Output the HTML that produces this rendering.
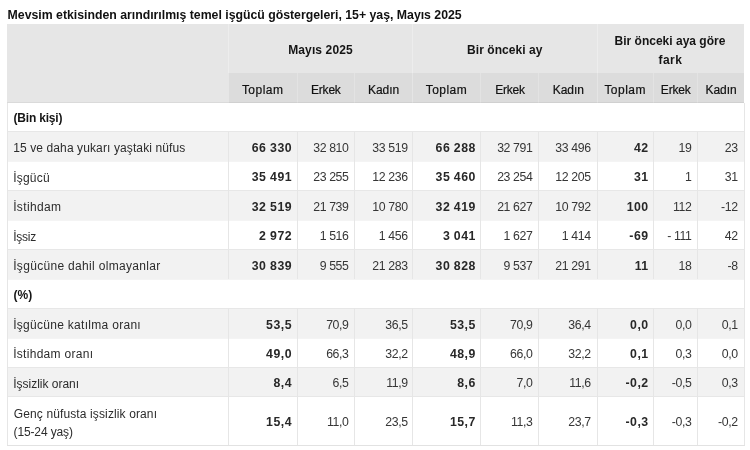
<!DOCTYPE html>
<html lang="tr"><head><meta charset="utf-8"><title>Temel işgücü göstergeleri</title>
<style>
html,body{margin:0;padding:0;background:#fff;}
body{width:750px;height:450px;position:relative;overflow:hidden;font-family:"Liberation Sans",sans-serif;color:#151515;}
#wrap{position:absolute;left:0;top:0;width:750px;height:450px;filter:blur(0.33px);}
.b{position:absolute;}
.t{position:absolute;white-space:nowrap;font-size:12px;line-height:18px;height:18px;}
.n{position:absolute;white-space:nowrap;font-size:12.3px;line-height:18px;height:18px;text-align:right;letter-spacing:-0.39px;}
.sh{-webkit-text-stroke:0.2px #111;color:#111;}
.lb{color:#2c2c2c;}
.n{color:#363636;}
.nb{color:#282828;}
.s{font-weight:bold;}
.nb{font-weight:bold;letter-spacing:0.53px;word-spacing:-0.4px;}
.h{font-weight:bold;font-size:12px;}
.v{position:absolute;width:1px;}
.hl{position:absolute;height:1px;}
</style></head><body><div id="wrap">
<div class="t s" style="left:7.6px;top:5.54px;font-size:12.3px;color:#111;letter-spacing:-0.01px">Mevsim etkisinden arındırılmış temel işgücü göstergeleri, 15+ yaş, Mayıs 2025</div>
<div class="b" style="left:7.3px;top:24px;width:736.9px;height:78.7px;background:#e6e6e6"></div>
<div class="b" style="left:228.5px;top:72.6px;width:515.7px;height:30.1px;background:#dcdcdc"></div>
<div class="t h" style="left:288.2px;top:41.14px;letter-spacing:0.12px">Mayıs 2025</div>
<div class="t h" style="left:467.1px;top:41.14px;letter-spacing:0.06px">Bir önceki ay</div>
<div class="t h" style="left:614.5px;top:31.84px;letter-spacing:0.01px">Bir önceki aya göre</div>
<div class="t h" style="left:658.5px;top:50.84px;letter-spacing:0.45px">fark</div>
<div class="t sh" style="left:241.9px;top:80.74px;letter-spacing:0.47px">Toplam</div>
<div class="t sh" style="left:311px;top:80.74px;letter-spacing:-0.2px">Erkek</div>
<div class="t sh" style="left:368px;top:80.74px;letter-spacing:-0.05px">Kadın</div>
<div class="t sh" style="left:425.7px;top:80.74px;letter-spacing:0.47px">Toplam</div>
<div class="t sh" style="left:495.15px;top:80.74px;letter-spacing:-0.2px">Erkek</div>
<div class="t sh" style="left:552.75px;top:80.74px;letter-spacing:-0.05px">Kadın</div>
<div class="t sh" style="left:604.4px;top:80.74px;letter-spacing:0.47px">Toplam</div>
<div class="t sh" style="left:660.85px;top:80.74px;letter-spacing:-0.2px">Erkek</div>
<div class="t sh" style="left:705.55px;top:80.74px;letter-spacing:-0.05px">Kadın</div>
<div class="t s" style="left:13.5px;top:109.44px;letter-spacing:-0.19px">(Bin kişi)</div>
<div class="b" style="left:7.3px;top:131.3px;width:736.9px;height:29.85px;background:#f2f2f2"></div>
<div class="t lb" style="left:13.2px;top:139.18px;letter-spacing:0.11px">15 ve daha yukarı yaştaki nüfus</div>
<div class="n nb" style="right:457.87px;top:138.88px">66 330</div>
<div class="n" style="right:401.49px;top:138.88px">32 810</div>
<div class="n" style="right:342.39px;top:138.88px">33 519</div>
<div class="n nb" style="right:274.07px;top:138.88px">66 288</div>
<div class="n" style="right:217.59px;top:138.88px">32 791</div>
<div class="n" style="right:159.39px;top:138.88px">33 496</div>
<div class="n nb" style="right:101.27px;top:138.88px">42</div>
<div class="n" style="right:58.59px;top:138.88px">19</div>
<div class="n" style="right:12.29px;top:138.88px">23</div>
<div class="t lb" style="left:13.2px;top:168.62px;letter-spacing:0.22px">İşgücü</div>
<div class="n nb" style="right:457.87px;top:168.32px">35 491</div>
<div class="n" style="right:401.49px;top:168.32px">23 255</div>
<div class="n" style="right:342.39px;top:168.32px">12 236</div>
<div class="n nb" style="right:274.07px;top:168.32px">35 460</div>
<div class="n" style="right:217.59px;top:168.32px">23 254</div>
<div class="n" style="right:159.39px;top:168.32px">12 205</div>
<div class="n nb" style="right:101.27px;top:168.32px">31</div>
<div class="n" style="right:58.59px;top:168.32px">1</div>
<div class="n" style="right:12.29px;top:168.32px">31</div>
<div class="b" style="left:7.3px;top:190.25px;width:736.9px;height:29.85px;background:#f2f2f2"></div>
<div class="t lb" style="left:13.2px;top:198.06px;letter-spacing:0.34px">İstihdam</div>
<div class="n nb" style="right:457.87px;top:197.76px">32 519</div>
<div class="n" style="right:401.49px;top:197.76px">21 739</div>
<div class="n" style="right:342.39px;top:197.76px">10 780</div>
<div class="n nb" style="right:274.07px;top:197.76px">32 419</div>
<div class="n" style="right:217.59px;top:197.76px">21 627</div>
<div class="n" style="right:159.39px;top:197.76px">10 792</div>
<div class="n nb" style="right:101.27px;top:197.76px">100</div>
<div class="n" style="right:58.59px;top:197.76px">112</div>
<div class="n" style="right:12.29px;top:197.76px">-12</div>
<div class="t lb" style="left:13.2px;top:227.5px;letter-spacing:-0.26px">İşsiz</div>
<div class="n nb" style="right:457.87px;top:227.2px">2 972</div>
<div class="n" style="right:401.49px;top:227.2px">1 516</div>
<div class="n" style="right:342.39px;top:227.2px">1 456</div>
<div class="n nb" style="right:274.07px;top:227.2px">3 041</div>
<div class="n" style="right:217.59px;top:227.2px">1 627</div>
<div class="n" style="right:159.39px;top:227.2px">1 414</div>
<div class="n nb" style="right:101.27px;top:227.2px">-69</div>
<div class="n" style="right:58.59px;top:227.2px">- 111</div>
<div class="n" style="right:12.29px;top:227.2px">42</div>
<div class="b" style="left:7.3px;top:249.2px;width:736.9px;height:29.85px;background:#f2f2f2"></div>
<div class="t lb" style="left:13.2px;top:256.94px;letter-spacing:0.32px">İşgücüne dahil olmayanlar</div>
<div class="n nb" style="right:457.87px;top:256.64px">30 839</div>
<div class="n" style="right:401.49px;top:256.64px">9 555</div>
<div class="n" style="right:342.39px;top:256.64px">21 283</div>
<div class="n nb" style="right:274.07px;top:256.64px">30 828</div>
<div class="n" style="right:217.59px;top:256.64px">9 537</div>
<div class="n" style="right:159.39px;top:256.64px">21 291</div>
<div class="n nb" style="right:101.27px;top:256.64px">11</div>
<div class="n" style="right:58.59px;top:256.64px">18</div>
<div class="n" style="right:12.29px;top:256.64px">-8</div>
<div class="t s" style="left:13.5px;top:286.08px;letter-spacing:0.08px">(%)</div>
<div class="b" style="left:7.3px;top:308.15px;width:736.9px;height:29.85px;background:#f2f2f2"></div>
<div class="t lb" style="left:13.2px;top:315.82px;letter-spacing:0.29px">İşgücüne katılma oranı</div>
<div class="n nb" style="right:457.87px;top:315.52px">53,5</div>
<div class="n" style="right:401.49px;top:315.52px">70,9</div>
<div class="n" style="right:342.39px;top:315.52px">36,5</div>
<div class="n nb" style="right:274.07px;top:315.52px">53,5</div>
<div class="n" style="right:217.59px;top:315.52px">70,9</div>
<div class="n" style="right:159.39px;top:315.52px">36,4</div>
<div class="n nb" style="right:101.27px;top:315.52px">0,0</div>
<div class="n" style="right:58.59px;top:315.52px">0,0</div>
<div class="n" style="right:12.29px;top:315.52px">0,1</div>
<div class="t lb" style="left:13.2px;top:345.26px;letter-spacing:0.29px">İstihdam oranı</div>
<div class="n nb" style="right:457.87px;top:344.96px">49,0</div>
<div class="n" style="right:401.49px;top:344.96px">66,3</div>
<div class="n" style="right:342.39px;top:344.96px">32,2</div>
<div class="n nb" style="right:274.07px;top:344.96px">48,9</div>
<div class="n" style="right:217.59px;top:344.96px">66,0</div>
<div class="n" style="right:159.39px;top:344.96px">32,2</div>
<div class="n nb" style="right:101.27px;top:344.96px">0,1</div>
<div class="n" style="right:58.59px;top:344.96px">0,3</div>
<div class="n" style="right:12.29px;top:344.96px">0,0</div>
<div class="b" style="left:7.3px;top:367.1px;width:736.9px;height:29.85px;background:#f2f2f2"></div>
<div class="t lb" style="left:13.2px;top:374.7px;letter-spacing:-0.01px">İşsizlik oranı</div>
<div class="n nb" style="right:457.87px;top:374.4px">8,4</div>
<div class="n" style="right:401.49px;top:374.4px">6,5</div>
<div class="n" style="right:342.39px;top:374.4px">11,9</div>
<div class="n nb" style="right:274.07px;top:374.4px">8,6</div>
<div class="n" style="right:217.59px;top:374.4px">7,0</div>
<div class="n" style="right:159.39px;top:374.4px">11,6</div>
<div class="n nb" style="right:101.27px;top:374.4px">-0,2</div>
<div class="n" style="right:58.59px;top:374.4px">-0,5</div>
<div class="n" style="right:12.29px;top:374.4px">0,3</div>
<div class="t lb" style="left:13.8px;top:405.14px;letter-spacing:0.12px">Genç nüfusta işsizlik oranı</div>
<div class="t lb" style="left:13.5px;top:423.44px;letter-spacing:-0.12px">(15-24 yaş)</div>
<div class="n nb" style="right:457.87px;top:413.49px">15,4</div>
<div class="n" style="right:401.49px;top:413.49px">11,0</div>
<div class="n" style="right:342.39px;top:413.49px">23,5</div>
<div class="n nb" style="right:274.07px;top:413.49px">15,7</div>
<div class="n" style="right:217.59px;top:413.49px">11,3</div>
<div class="n" style="right:159.39px;top:413.49px">23,7</div>
<div class="n nb" style="right:101.27px;top:413.49px">-0,3</div>
<div class="n" style="right:58.59px;top:413.49px">-0,3</div>
<div class="n" style="right:12.29px;top:413.49px">-0,2</div>
<div class="hl" style="left:6.8px;top:444.5px;width:737.9px;background:#e2e2e2"></div>
<div class="hl" style="left:7.3px;top:130.8px;width:736.9px;background:rgba(0,0,0,.045)"></div>
<div class="hl" style="left:7.3px;top:160.65px;width:736.9px;background:rgba(0,0,0,.045)"></div>
<div class="hl" style="left:7.3px;top:189.75px;width:736.9px;background:rgba(0,0,0,.045)"></div>
<div class="hl" style="left:7.3px;top:219.6px;width:736.9px;background:rgba(0,0,0,.045)"></div>
<div class="hl" style="left:7.3px;top:248.7px;width:736.9px;background:rgba(0,0,0,.045)"></div>
<div class="hl" style="left:7.3px;top:278.55px;width:736.9px;background:rgba(0,0,0,.045)"></div>
<div class="hl" style="left:7.3px;top:307.65px;width:736.9px;background:rgba(0,0,0,.045)"></div>
<div class="hl" style="left:7.3px;top:337.5px;width:736.9px;background:rgba(0,0,0,.045)"></div>
<div class="hl" style="left:7.3px;top:366.6px;width:736.9px;background:rgba(0,0,0,.045)"></div>
<div class="hl" style="left:7.3px;top:396.45px;width:736.9px;background:rgba(0,0,0,.045)"></div>
<div class="v" style="left:228px;top:24px;height:48.6px;background:rgba(255,255,255,.28)"></div>
<div class="v" style="left:412.1px;top:24px;height:78.7px;background:rgba(255,255,255,.28)"></div>
<div class="v" style="left:596.8px;top:24px;height:78.7px;background:rgba(255,255,255,.28)"></div>
<div class="v" style="left:296.8px;top:72.6px;height:30.1px;background:rgba(255,255,255,.22)"></div>
<div class="v" style="left:353.6px;top:72.6px;height:30.1px;background:rgba(255,255,255,.22)"></div>
<div class="v" style="left:480.3px;top:72.6px;height:30.1px;background:rgba(255,255,255,.22)"></div>
<div class="v" style="left:538.4px;top:72.6px;height:30.1px;background:rgba(255,255,255,.22)"></div>
<div class="v" style="left:653px;top:72.6px;height:30.1px;background:rgba(255,255,255,.22)"></div>
<div class="v" style="left:697.1px;top:72.6px;height:30.1px;background:rgba(255,255,255,.22)"></div>
<div class="hl" style="left:7.3px;top:101.7px;width:736.9px;background:rgba(0,0,0,.05)"></div>
<div class="v" style="left:228px;top:131.74px;height:29.44px;background:#e6e6e6"></div>
<div class="v" style="left:296.8px;top:131.74px;height:29.44px;background:#e6e6e6"></div>
<div class="v" style="left:353.6px;top:131.74px;height:29.44px;background:#e6e6e6"></div>
<div class="v" style="left:412.1px;top:131.74px;height:29.44px;background:#e6e6e6"></div>
<div class="v" style="left:480.3px;top:131.74px;height:29.44px;background:#e6e6e6"></div>
<div class="v" style="left:538.4px;top:131.74px;height:29.44px;background:#e6e6e6"></div>
<div class="v" style="left:596.8px;top:131.74px;height:29.44px;background:#e6e6e6"></div>
<div class="v" style="left:653px;top:131.74px;height:29.44px;background:#e6e6e6"></div>
<div class="v" style="left:697.1px;top:131.74px;height:29.44px;background:#e6e6e6"></div>
<div class="v" style="left:228px;top:161.18px;height:29.44px;background:#e6e6e6"></div>
<div class="v" style="left:296.8px;top:161.18px;height:29.44px;background:#e6e6e6"></div>
<div class="v" style="left:353.6px;top:161.18px;height:29.44px;background:#e6e6e6"></div>
<div class="v" style="left:412.1px;top:161.18px;height:29.44px;background:#e6e6e6"></div>
<div class="v" style="left:480.3px;top:161.18px;height:29.44px;background:#e6e6e6"></div>
<div class="v" style="left:538.4px;top:161.18px;height:29.44px;background:#e6e6e6"></div>
<div class="v" style="left:596.8px;top:161.18px;height:29.44px;background:#e6e6e6"></div>
<div class="v" style="left:653px;top:161.18px;height:29.44px;background:#e6e6e6"></div>
<div class="v" style="left:697.1px;top:161.18px;height:29.44px;background:#e6e6e6"></div>
<div class="v" style="left:228px;top:190.62px;height:29.44px;background:#e6e6e6"></div>
<div class="v" style="left:296.8px;top:190.62px;height:29.44px;background:#e6e6e6"></div>
<div class="v" style="left:353.6px;top:190.62px;height:29.44px;background:#e6e6e6"></div>
<div class="v" style="left:412.1px;top:190.62px;height:29.44px;background:#e6e6e6"></div>
<div class="v" style="left:480.3px;top:190.62px;height:29.44px;background:#e6e6e6"></div>
<div class="v" style="left:538.4px;top:190.62px;height:29.44px;background:#e6e6e6"></div>
<div class="v" style="left:596.8px;top:190.62px;height:29.44px;background:#e6e6e6"></div>
<div class="v" style="left:653px;top:190.62px;height:29.44px;background:#e6e6e6"></div>
<div class="v" style="left:697.1px;top:190.62px;height:29.44px;background:#e6e6e6"></div>
<div class="v" style="left:228px;top:220.06px;height:29.44px;background:#e6e6e6"></div>
<div class="v" style="left:296.8px;top:220.06px;height:29.44px;background:#e6e6e6"></div>
<div class="v" style="left:353.6px;top:220.06px;height:29.44px;background:#e6e6e6"></div>
<div class="v" style="left:412.1px;top:220.06px;height:29.44px;background:#e6e6e6"></div>
<div class="v" style="left:480.3px;top:220.06px;height:29.44px;background:#e6e6e6"></div>
<div class="v" style="left:538.4px;top:220.06px;height:29.44px;background:#e6e6e6"></div>
<div class="v" style="left:596.8px;top:220.06px;height:29.44px;background:#e6e6e6"></div>
<div class="v" style="left:653px;top:220.06px;height:29.44px;background:#e6e6e6"></div>
<div class="v" style="left:697.1px;top:220.06px;height:29.44px;background:#e6e6e6"></div>
<div class="v" style="left:228px;top:249.5px;height:29.44px;background:#e6e6e6"></div>
<div class="v" style="left:296.8px;top:249.5px;height:29.44px;background:#e6e6e6"></div>
<div class="v" style="left:353.6px;top:249.5px;height:29.44px;background:#e6e6e6"></div>
<div class="v" style="left:412.1px;top:249.5px;height:29.44px;background:#e6e6e6"></div>
<div class="v" style="left:480.3px;top:249.5px;height:29.44px;background:#e6e6e6"></div>
<div class="v" style="left:538.4px;top:249.5px;height:29.44px;background:#e6e6e6"></div>
<div class="v" style="left:596.8px;top:249.5px;height:29.44px;background:#e6e6e6"></div>
<div class="v" style="left:653px;top:249.5px;height:29.44px;background:#e6e6e6"></div>
<div class="v" style="left:697.1px;top:249.5px;height:29.44px;background:#e6e6e6"></div>
<div class="v" style="left:228px;top:308.38px;height:29.44px;background:#e6e6e6"></div>
<div class="v" style="left:296.8px;top:308.38px;height:29.44px;background:#e6e6e6"></div>
<div class="v" style="left:353.6px;top:308.38px;height:29.44px;background:#e6e6e6"></div>
<div class="v" style="left:412.1px;top:308.38px;height:29.44px;background:#e6e6e6"></div>
<div class="v" style="left:480.3px;top:308.38px;height:29.44px;background:#e6e6e6"></div>
<div class="v" style="left:538.4px;top:308.38px;height:29.44px;background:#e6e6e6"></div>
<div class="v" style="left:596.8px;top:308.38px;height:29.44px;background:#e6e6e6"></div>
<div class="v" style="left:653px;top:308.38px;height:29.44px;background:#e6e6e6"></div>
<div class="v" style="left:697.1px;top:308.38px;height:29.44px;background:#e6e6e6"></div>
<div class="v" style="left:228px;top:337.82px;height:29.44px;background:#e6e6e6"></div>
<div class="v" style="left:296.8px;top:337.82px;height:29.44px;background:#e6e6e6"></div>
<div class="v" style="left:353.6px;top:337.82px;height:29.44px;background:#e6e6e6"></div>
<div class="v" style="left:412.1px;top:337.82px;height:29.44px;background:#e6e6e6"></div>
<div class="v" style="left:480.3px;top:337.82px;height:29.44px;background:#e6e6e6"></div>
<div class="v" style="left:538.4px;top:337.82px;height:29.44px;background:#e6e6e6"></div>
<div class="v" style="left:596.8px;top:337.82px;height:29.44px;background:#e6e6e6"></div>
<div class="v" style="left:653px;top:337.82px;height:29.44px;background:#e6e6e6"></div>
<div class="v" style="left:697.1px;top:337.82px;height:29.44px;background:#e6e6e6"></div>
<div class="v" style="left:228px;top:367.26px;height:29.44px;background:#e6e6e6"></div>
<div class="v" style="left:296.8px;top:367.26px;height:29.44px;background:#e6e6e6"></div>
<div class="v" style="left:353.6px;top:367.26px;height:29.44px;background:#e6e6e6"></div>
<div class="v" style="left:412.1px;top:367.26px;height:29.44px;background:#e6e6e6"></div>
<div class="v" style="left:480.3px;top:367.26px;height:29.44px;background:#e6e6e6"></div>
<div class="v" style="left:538.4px;top:367.26px;height:29.44px;background:#e6e6e6"></div>
<div class="v" style="left:596.8px;top:367.26px;height:29.44px;background:#e6e6e6"></div>
<div class="v" style="left:653px;top:367.26px;height:29.44px;background:#e6e6e6"></div>
<div class="v" style="left:697.1px;top:367.26px;height:29.44px;background:#e6e6e6"></div>
<div class="v" style="left:228px;top:396.7px;height:48.3px;background:#e6e6e6"></div>
<div class="v" style="left:296.8px;top:396.7px;height:48.3px;background:#e6e6e6"></div>
<div class="v" style="left:353.6px;top:396.7px;height:48.3px;background:#e6e6e6"></div>
<div class="v" style="left:412.1px;top:396.7px;height:48.3px;background:#e6e6e6"></div>
<div class="v" style="left:480.3px;top:396.7px;height:48.3px;background:#e6e6e6"></div>
<div class="v" style="left:538.4px;top:396.7px;height:48.3px;background:#e6e6e6"></div>
<div class="v" style="left:596.8px;top:396.7px;height:48.3px;background:#e6e6e6"></div>
<div class="v" style="left:653px;top:396.7px;height:48.3px;background:#e6e6e6"></div>
<div class="v" style="left:697.1px;top:396.7px;height:48.3px;background:#e6e6e6"></div>
<div class="v" style="left:6.8px;top:102.7px;height:342.3px;background:#e6e6e6"></div>
<div class="v" style="left:743.7px;top:102.7px;height:342.3px;background:#e6e6e6"></div>
</div></body></html>
